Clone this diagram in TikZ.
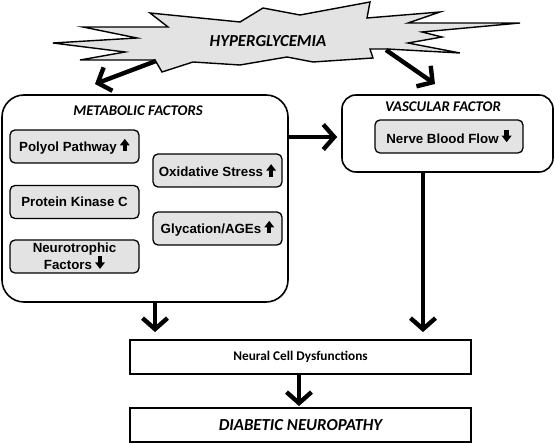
\documentclass[tikz,border=0pt]{standalone}
\usepackage{fontspec}
\setmainfont{Liberation Sans}
\newfontfamily\calfont{Carlito}
\usetikzlibrary{arrows.meta}
\definecolor{boxgray}{HTML}{E3E3E3}
\newcommand{\upar}{\hspace{3pt}\tikz[x=1pt,y=1pt,baseline=0pt,sharp corners]{\fill[black,draw=none] (-2.2,0) rectangle (2.2,6.5);\fill[black,draw=none] (-5,6) -- (5,6) -- (0,12.5) -- cycle;}}
\newcommand{\dnar}{\hspace{3pt}\tikz[x=1pt,y=1pt,baseline=-1pt,sharp corners]{\fill[black,draw=none] (-2.2,6) rectangle (2.2,12.5);\fill[black,draw=none] (-5,6.5) -- (5,6.5) -- (0,0) -- cycle;}}
\begin{document}
\begin{tikzpicture}[x=1pt,y=-1pt,
  arr/.style={line width=4.4pt, -{Straight Barb[length=11pt,width=25pt]}},
  inbox/.style={draw, line width=1.3pt, fill=boxgray, rounded corners=5pt, minimum width=129pt, minimum height=33pt, inner sep=0pt, font=\bfseries\fontsize{13.3}{13.5}\selectfont, align=center},
  bigbox/.style={draw, line width=1.6pt, rounded corners=22pt, inner sep=0pt},
  ttl/.style={font=\calfont\bfseries\itshape\fontsize{14.8}{16}\selectfont, inner sep=0pt},
  rbox/.style={draw, line width=1.9pt, minimum width=341pt, minimum height=34pt, inner sep=0pt}]
\useasboundingbox (0,0) rectangle (555,443);
% starburst
\draw[line width=1.4pt, fill=boxgray, line join=miter]
 (150,13) -- (240,22) -- (263,8) -- (300,15) -- (370,2) -- (367,18) -- (440,12)
 -- (408,23) -- (520,23) -- (422,32) -- (442,37) -- (408,43) -- (460,53)
 -- (387,49) -- (370,49) -- (373,58) -- (313,62) -- (287,57) -- (240,65)
 -- (193,62) -- (162,72) -- (155,60) -- (80,60) -- (125,52) -- (53,43)
 -- (137,38) -- (83,27) -- (168,27) -- cycle;
\node[font=\calfont\bfseries\itshape\fontsize{16.8}{18}\selectfont] (hyper) at (268,41) {HYPERGLYCEMIA};
\coordinate (hl) at (156,61);
\coordinate (hr) at (386,50);
% metabolic box
\node[bigbox, minimum width=286pt, minimum height=207pt] (met) at (145,198.5) {};
\node[ttl] (mett) at (138,111) {METABOLIC FACTORS};
\node[inbox] (poly) at (74.5,146.5) {Polyol Pathway\upar};
\node[inbox] (pkc) at (74.5,202) {Protein Kinase C};
\node[inbox] (neuro) at (74.5,256.5) {Neurotrophic\\Factors\dnar};
\node[inbox] (oxi) at (217.5,170.5) {Oxidative Stress\upar};
\node[inbox] (gly) at (217.5,228.5) {Glycation/AGEs\upar};
% vascular box
\node[bigbox, rounded corners=14pt, minimum width=211pt, minimum height=77pt] (vas) at (447.5,133.5) {};
\node[ttl] (vast) at (443,107) {VASCULAR FACTOR};
\node[inbox, minimum width=148pt] (nbf) at (449,136.5) {Nerve Blood Flow\dnar};
% bottom boxes
\node[rbox, font=\calfont\bfseries\fontsize{13.3}{14}\selectfont] (ncd) at (300.5,357) {Neural Cell Dysfunctions};
\node[rbox, font=\calfont\bfseries\itshape\fontsize{16.8}{18}\selectfont] (dn) at (300.5,425) {DIABETIC NEUROPATHY};
% arrows
\coordinate (tl) at (95,84);
\coordinate (tr) at (435,84);
\draw[arr] (hl) -- (tl);
\draw[arr] (hr) -- (tr);
\coordinate (mv) at (0,137);
\draw[arr, shorten >=4pt] (met.east |- mv) -- (vas.west |- mv);
\coordinate (lx) at (155,0);
\coordinate (rx) at (423,0);
\draw[arr, shorten >=7pt] (met.south -| lx) -- (ncd.north -| lx);
\draw[arr, shorten >=7pt] (vas.south -| rx) -- (ncd.north -| rx);
\coordinate (cx) at (299,0);
\draw[arr, shorten >=1pt] (ncd.south -| cx) -- (dn.north -| cx);
\end{tikzpicture}
\end{document}
